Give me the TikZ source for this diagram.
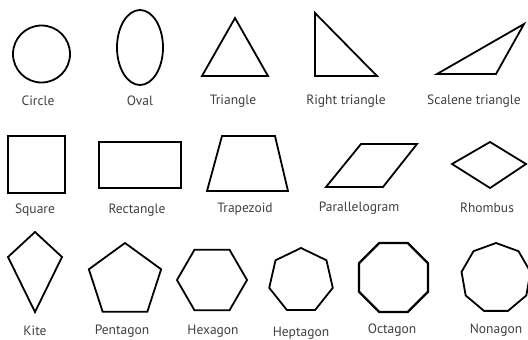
\documentclass[tikz,border=0pt]{standalone}
\usepackage{fontspec}
\setmainfont{PT Sans}
\usetikzlibrary{calc}
\begin{document}
\begin{tikzpicture}[x=1pt,y=-1pt,
    outline/.style={line width=1.8pt,line join=miter},
    lbl/.style={text=black!75,font=\fontsize{13.5}{15}\selectfont,inner sep=0pt}]
        \useasboundingbox[fill=white] (0,0) rectangle (528,340);
        % row one
        \draw[outline] (41.5,54) circle(28.5);
        \draw[outline] (140,47.5) ellipse(23 and 37.5);
        \draw[outline] (235,18) -- (202,76) -- (268,76) -- cycle;
        \draw[outline] (315,13) -- (315,76) -- (377,76) -- cycle;
        \draw[outline] (437,74) -- (496,74) -- (524,24) -- cycle;
        \node[lbl] (circle) at (38,101) {Circle};
        \node[lbl] (oval) at (140,101) {Oval};
        \node[lbl] (triangle) at (233,101) {Triangle};
        \node[lbl] (right) at (346,101) {Right triangle};
        \node[lbl] (scalene) at (474,101) {Scalene triangle};
        % row two
        \draw[outline] (8,136) rectangle (65,193);
        \draw[outline] (99,142) rectangle (181,188);
        \draw[outline] (207,191) -- (222,136) -- (275,136) -- (288,191) -- cycle;
        \draw[outline] (326,187) -- (383,187) -- (417,144) -- (361,144) -- cycle;
        \draw[outline] (452,164) -- (490,142) -- (526,164) -- (490,188) -- cycle;
        \node[lbl] (square) at (35,210) {Square};
        \node[lbl] (rectangle) at (137,210) {Rectangle};
        \node[lbl] (trapezoid) at (245,209) {Trapezoid};
        \node[lbl] (parallelogram) at (359,208) {Parallelogram};
        \node[lbl] (rhombus) at (487,208) {Rhombus};
        % row three
        \draw[outline] (35,232) -- (8,257) -- (35,312) -- (62,257) -- cycle;
        \draw[outline] (125,281) ++(-90:38)
            \foreach \k in {1,...,4} {-- ($(125,281)+(-90+\k*72:38)$)} -- cycle;
        \draw[outline] (212,280) ++(0:35)
            \foreach \k in {1,...,5} {-- ($(212,280)+(\k*60:35)$)} -- cycle;
        \draw[outline] (301,280.6) ++(-90:32.6)
            \foreach \k in {1,...,6} {-- ($(301,280.6)+(-90+\k*360/7:32.6)$)} -- cycle;
        \draw[outline,line width=2.4pt] (393.5,277.5) ++(22.5:37.3)
            \foreach \k in {1,...,7} {-- ($(393.5,277.5)+(22.5+\k*45:37.3)$)} -- cycle;
        \draw[outline] (496,278) ++(-90:35)
            \foreach \k in {1,...,8} {-- ($(496,278)+(-90+\k*40:35)$)} -- cycle;
        \node[lbl] (kite) at (35,331) {Kite};
        \node[lbl] (pentagon) at (122,331) {Pentagon};
        \node[lbl] (hexagon) at (213,331) {Hexagon};
        \node[lbl] (heptagon) at (301,333) {Heptagon};
        \node[lbl] (octagon) at (392,330) {Octagon};
        \node[lbl] (nonagon) at (496,330) {Nonagon};
    \end{tikzpicture}
\end{document}
